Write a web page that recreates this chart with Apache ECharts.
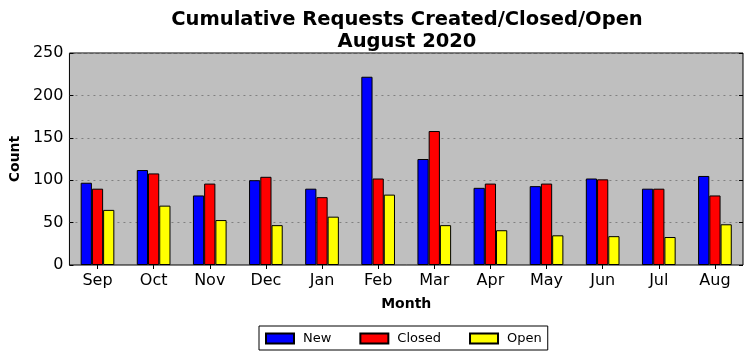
<!DOCTYPE html>
<html><head><meta charset="utf-8">
<script src="https://cdn.jsdelivr.net/npm/echarts@6/dist/echarts.min.js"></script>
<style>html,body{margin:0;padding:0;background:#fff}#c{width:752px;height:361px}</style>
</head><body><div id="c"></div>
<script>
const months = ['Sep','Oct','Nov','Dec','Jan','Feb','Mar','Apr','May','Jun','Jul','Aug'];
const newVals    = [97, 112, 82, 100, 90, 222, 125, 91, 93, 102, 90, 105];
const closedVals = [90, 108, 96, 104, 80, 102, 158, 96, 96, 101, 90, 82];
const openVals   = [65, 70, 53, 47, 57, 83, 47, 41, 35, 34, 33, 48];
const yTicks = [0, 50, 100, 150, 200, 250];

const FF = 'DejaVu Sans';
const chart = echarts.init(document.getElementById('c'), null, {renderer: 'canvas'});
const barStyle = c => ({color: c, borderColor: '#000', borderWidth: 1});
chart.setOption({
  animation: false,
  title: {
    text: 'Cumulative Requests Created/Closed/Open\nAugust 2020',
    left: 402, textAlign: 'center', top: 4,
    textStyle: {fontFamily: FF, fontSize: 19.5, fontWeight: 'bold', color: '#000', lineHeight: 22}
  },
  legend: {
    left: 259, top: 326, padding: [6, 6, 5, 6],
    itemWidth: 28, itemHeight: 10, itemGap: 28,
    borderColor: '#000', borderWidth: 1, borderRadius: 0, backgroundColor: '#fff',
    icon: 'rect',
    textStyle: {fontFamily: FF, fontSize: 13, color: '#000', padding: [0, 0, 0, 4]},
    data: ['New', 'Closed', 'Open']
  },
  grid: {left: 67, right: 9, top: 53, bottom: 96, show: true, backgroundColor: '#bfbfbf', borderColor: '#000', borderWidth: 1},
  xAxis: [{
    type: 'category', data: months, position: 'bottom',
    name: 'Month', nameLocation: 'middle', nameGap: 32,
    nameTextStyle: {fontFamily: FF, fontSize: 14, fontWeight: 'bold', color: '#000'},
    axisLine: {show: false},
    axisTick: {show: true, inside: true, alignWithLabel: true, length: 4, lineStyle: {color: '#000'}},
    axisLabel: {fontFamily: FF, fontSize: 16, color: '#000', margin: 8},
    splitLine: {show: false}
  }, {
    type: 'category', data: months, position: 'top',
    axisLine: {show: false},
    axisTick: {show: true, inside: true, alignWithLabel: true, length: 4, lineStyle: {color: '#000'}},
    axisLabel: {show: false}
  }],
  yAxis: [{
    type: 'value', min: 0, max: 250, interval: 50, position: 'left',
    name: 'Count', nameLocation: 'middle', nameGap: 42, nameRotate: 90,
    nameTextStyle: {fontFamily: FF, fontSize: 14, fontWeight: 'bold', color: '#000'},
    axisLine: {show: false},
    axisTick: {show: true, inside: true, length: 4, lineStyle: {color: '#000'}},
    axisLabel: {fontFamily: FF, fontSize: 16, color: '#000', margin: 6},
    splitLine: {show: true, lineStyle: {color: '#808080', type: [2, 4], width: 1}}
  }, {
    type: 'value', min: 0, max: 250, interval: 50, position: 'right',
    axisLine: {show: false},
    axisTick: {show: true, inside: true, length: 4, lineStyle: {color: '#000'}},
    axisLabel: {show: false}, splitLine: {show: false}
  }],
  series: [
    {name: 'New', type: 'bar', data: newVals, barWidth: '20%', barGap: '0%', itemStyle: barStyle('#0000ff')},
    {name: 'Closed', type: 'bar', data: closedVals, barWidth: '20%', barGap: '0%', itemStyle: barStyle('#ff0000')},
    {name: 'Open', type: 'bar', data: openVals, barWidth: '20%', barGap: '0%', itemStyle: barStyle('#ffff00')}
  ]
});
</script></body></html>
